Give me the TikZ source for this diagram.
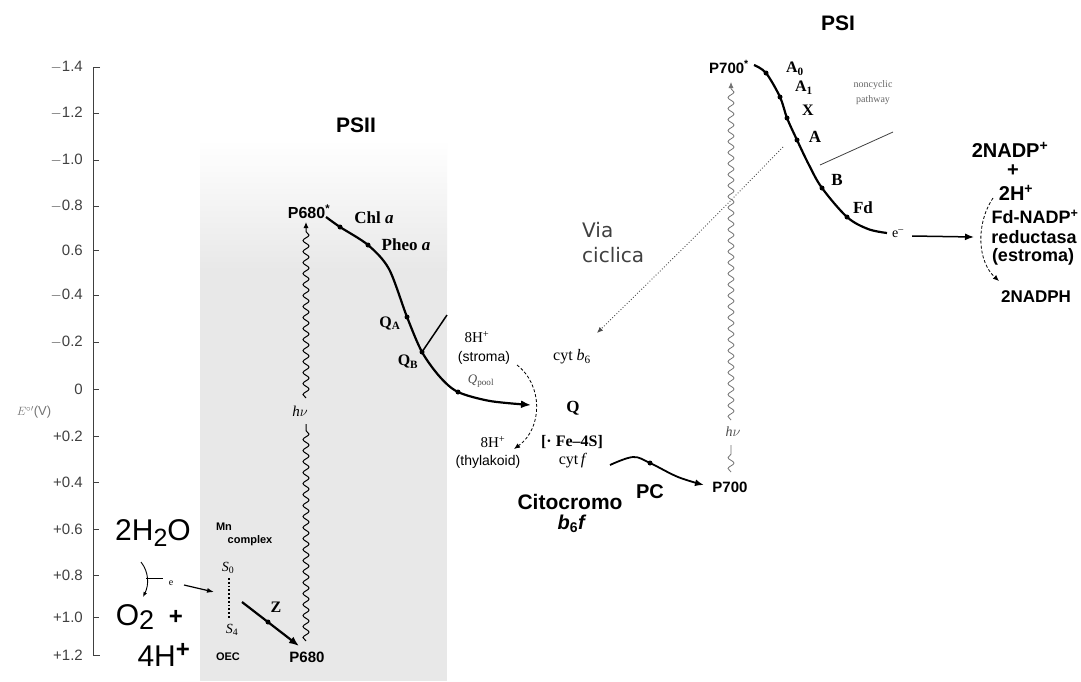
\documentclass[tikz,border=0pt]{standalone}
\usepackage{fontspec}
\setmainfont{Liberation Serif}
\setsansfont{Liberation Sans}
\newfontfamily\dejavu{DejaVu Sans}
\usetikzlibrary{arrows.meta,decorations.pathmorphing,calc}
\newcommand\fsz[1]{\fontsize{#1}{#1}\selectfont}
\begin{document}
\begin{tikzpicture}[x=1pt,y=-1pt,
  lab/.style={inner sep=0pt, anchor=center},
  sansb/.style={lab, font=\sffamily\bfseries\fsz{#1}},
  sansr/.style={lab, font=\sffamily\fsz{#1}},
  serb/.style={lab, font=\rmfamily\bfseries\fsz{#1}},
  serr/.style={lab, font=\rmfamily\fsz{#1}},
  ticklab/.style={inner sep=0pt, anchor=east, font=\sffamily\fsz{15}, text=black!75},
  dot/.style={circle, fill=black, inner sep=0pt, minimum size=5pt},
  chain/.style={line width=2.2pt, -{Latex[length=10pt,width=8pt]}},
  wave/.style={decorate, decoration={snake, segment length=11pt, amplitude=3pt, post length=5pt}, line width=1pt},
  dashedarrow/.style={densely dashed, line width=0.8pt, -{Latex[length=6pt,width=5pt]}}
]
\useasboundingbox (0,0) rectangle (1081,681);
\fill[white] (0,0) rectangle (1081,681);

% shaded PSII area
\shade[top color=white, bottom color=gray!18] (200,140) rectangle (447,270);
\fill[gray!18] (200,270) rectangle (447,681);

% axis
\draw[line width=0.8pt, black!75] (100,67) -- (93,67) -- (93,655) -- (100,655);
\foreach \yy/\tl [count=\i] in {67/{$-$1.4},113/{$-$1.2},160/{$-$1.0},206/{$-$0.8},250/{0.6},295/{$-$0.4},342/{$-$0.2},389/{0},436/{+0.2},482/{+0.4},529/{+0.6},575/{+0.8},617/{+1.0},655/{+1.2}}{
  \draw[line width=0.8pt, black!75] (93,\yy) -- (99,\yy);
  \node[ticklab] (tick\i) at (83,\yy) {\tl};
}
\node[lab, font=\sffamily\fsz{13}, text=black!55] (eaxis) at (34,412) {$E^{\circ\prime}$(V)};

% titles
\node[sansb=21] (psii) at (356,125) {PSII};
\node[sansb=21] (psi) at (838,23) {PSI};

% PSII chain
\coordinate (s2) at (326,217);
\coordinate (chl) at (340,227);
\coordinate (pheo) at (368,245);
\coordinate (m1) at (389,269);
\coordinate (qa) at (407,317);
\coordinate (qb) at (422,352);
\coordinate (m2) at (440,377);
\coordinate (qp) at (458,392);
\coordinate (m3) at (490,401);
\coordinate (e2) at (531,405);
\draw[chain] plot[smooth, tension=0.5] coordinates {(s2) (chl) (pheo) (m1) (qa) (qb) (m2) (qp) (m3) (e2)};
\foreach \p in {chl,pheo,qa,qb,qp} \node[dot] (d\p) at (\p) {};
\coordinate (qbline) at (447,315);
\draw[line width=1.5pt] (dqb.center) -- (qbline);

\node[sansb=16] (p680s) at (309,212) {P680\textsuperscript{*}};
\node[serb=17] (lchl) at (374,218) {Chl \textit{a}};
\node[serb=17] (lpheo) at (406,245) {Pheo \textit{a}};
\node[serb=16] (lqa) at (390,323) {Q\textsubscript{A}};
\node[serb=16] (lqb) at (408,362) {Q\textsubscript{B}};

% hv PSII
\coordinate (hb) at (306,641);
\coordinate (hm1) at (306,424);
\coordinate (hm2) at (306,398);
\coordinate (ht) at (306,222);
\draw[wave] (hb) -- (hm1);
\draw[wave, -{Latex[length=6pt,width=5pt]}] (hm2) -- (ht);
\node[serr=15] (hv2) at (300,411) {\textit{h}$\nu$};

% OEC part
\node[sansb=15] (p680) at (307,657) {P680};
\coordinate (zs) at (242,602);
\coordinate (zd) at (268,622);
\coordinate (ze) at (299,646);
\draw[line width=2.2pt, -{Latex[length=10pt,width=8pt]}] (zs) -- (ze);
\node[dot] (dz) at (zd) {};
\node[serb=16] (lz) at (276,607) {Z};
\node[sansb=11] (mn) at (224,527) {Mn};
\node[sansb=11] (cplx) at (250,541) {complex};
\node[serr=14] (s0) at (228,568) {\textit{S}\textsubscript{0}};
\node[serr=14] (s4) at (232,630) {\textit{S}\textsubscript{4}};
\draw[line width=1.8pt, dotted] (229,578) -- (229,618);
\node[sansb=11] (oec) at (228,657) {OEC};

\node[sansr=30] (h2o) at (153,533) {2H\raisebox{-0.35ex}{\fsz{25}2}O};
\node[sansr=30] (o2) at (135,617) {O\raisebox{-0.25ex}{\fsz{27}2}};
\node[sansb=24] (plus1) at (176,617) {+};
\node[sansr=30] (h4) at (164,655) {4H\textsuperscript{\bfseries\fsz{24}+}};
\coordinate (b1) at (141,562);
\coordinate (b2) at (143,597);
\draw[line width=0.9pt, -{Latex[length=5pt,width=4pt]}] (b1) .. controls (149,572) and (149,585) .. (b2);
\draw[line width=0.9pt] (146,578) -- (163,578);
\node[serr=10] (le1) at (171,583) {e};
\coordinate (ea1) at (184,585);
\coordinate (ea2) at (214,592);
\draw[line width=1.2pt, -{Latex[length=7pt,width=5pt]}] (ea1) -- (ea2);

% Q cycle / cytochrome b6f
\node[serr=15] (h8a) at (477,337) {8H\textsuperscript{+}};
\node[sansr=14] (strom) at (484,358) {(stroma)};
\node[serr=13, text=black!70] (qpool) at (481,381) {\textit{Q}\textsubscript{pool}};
\coordinate (qc1) at (517,365);
\coordinate (qc2) at (514,449);
\draw[dashedarrow] (qc1) .. controls (543,385) and (543,428) .. (qc2);
\node[serr=15] (h8b) at (493,442) {8H\textsuperscript{+}};
\node[sansr=14] (thyl) at (488,462) {(thylakoid)};
\node[serb=17] (qq) at (573,408) {Q};
\node[serb=16] (fes) at (572,442) {[· Fe--4S]};
\node[serr=16] (cytf) at (573,461) {cyt\,\textit{f}};
\node[serr=16] (cytb) at (572,357) {cyt \textit{b}\textsubscript{6}};
\node[sansb=21] (cito) at (570,502) {Citocromo};
\node[sansb=20] (b6f) at (572,524) {\textit{b}\textsubscript{6}\textit{f}};

% PC
\coordinate (pc1) at (610,465);
\coordinate (pc2) at (633,457);
\coordinate (pc3) at (650,463);
\coordinate (pc4) at (678,477);
\coordinate (pc5) at (704,485);
\draw[line width=1.8pt, -{Latex[length=9pt,width=7pt]}] plot[smooth, tension=0.6] coordinates {(pc1) (pc2) (pc3) (pc4) (pc5)};
\node[dot] (dpc) at (pc3) {};
\node[sansb=20] (pc) at (650,492) {PC};
\node[sansb=15] (p700) at (730,487) {P700};

% hv PSI
\coordinate (hpb) at (731,472);
\coordinate (hpm1) at (731,445);
\coordinate (hpm2) at (731,420);
\coordinate (hpt) at (731,82);
\draw[wave, black!55, line width=0.8pt] (hpb) -- (hpm1);
\draw[wave, black!55, line width=0.8pt, -{Latex[length=6pt,width=5pt]}] (hpm2) -- (hpt);
\node[serr=14, text=black!70] (hv1) at (733,432) {\textit{h}$\nu$};

% PSI chain
\coordinate (s1) at (754,65);
\coordinate (a0) at (766,73);
\coordinate (a1) at (780,97);
\coordinate (xx) at (787,118);
\coordinate (aa) at (797,140);
\coordinate (n1) at (809,165);
\coordinate (bb) at (822,188);
\coordinate (fd) at (847,217);
\coordinate (n2) at (868,229);
\coordinate (e1) at (887,233);
\draw[line width=2.2pt] plot[smooth, tension=0.55] coordinates {(s1) (a0) (a1) (xx) (aa) (n1) (bb) (fd) (n2) (e1)};
\foreach \p in {a0,a1,xx,aa,bb,fd} \node[dot] (d\p) at (\p) {};
\node[sansb=15] (p700s) at (729,67) {P700\textsuperscript{*}};
\node[serb=16] (la0) at (795,69) {A\textsubscript{0}};
\node[serb=16] (la1) at (804,88) {A\textsubscript{1}};
\node[serb=16] (lx) at (808,110) {X};
\node[serb=17] (la) at (815,137) {A};
\node[serb=17] (lb) at (837,180) {B};
\node[serb=17] (lfd) at (863,208) {Fd};
\node[serr=14] (le2) at (898,234) {e\textsuperscript{--}};
\node[serr=10, text=black!60] (nc1) at (873,85) {noncyclic};
\node[serr=10, text=black!60] (nc2) at (873,100) {pathway};
\coordinate (ncl1) at (820,165);
\coordinate (ncl2) at (893,132);
\draw[line width=0.8pt, black!75] (ncl1) -- (ncl2);

% cyclic pathway
\coordinate (vc1) at (783,147);
\coordinate (vc2) at (597,333);
\draw[line width=0.9pt, dotted, black!70, -{Latex[length=6pt,width=5pt]}] (vc1) .. controls (700,232) .. (vc2);
\node[lab, anchor=west, font=\dejavu\fsz{20}, text=black!75] (via) at (582,230) {Via};
\node[lab, anchor=west, font=\dejavu\fsz{20}, text=black!75] (cicl) at (582,255) {ciclica};

% NADP
\coordinate (na1) at (912,236);
\coordinate (na2) at (974,237);
\draw[line width=1.5pt, -{Latex[length=9pt,width=7pt]}] (na1) -- (na2);
\node[sansb=20] (nadp) at (1010,150) {2NADP\textsuperscript{+}};
\node[sansb=20] (plus2) at (1013,171) {+};
\node[sansb=20] (h2) at (1016,193) {2H\textsuperscript{+}};
\node[sansb=18] (fdn) at (1035,217) {Fd-NADP\textsuperscript{+}};
\node[sansb=18] (red) at (1034,237) {reductasa};
\node[sansb=18] (estr) at (1033,257) {(estroma)};
\node[sansb=17] (nadph) at (1036,297) {2NADPH};
\coordinate (nd1) at (993,198);
\coordinate (nd2) at (999,281);
\draw[dashedarrow] (nd1) .. controls (975,225) and (978,262) .. (nd2);
\end{tikzpicture}
\end{document}
